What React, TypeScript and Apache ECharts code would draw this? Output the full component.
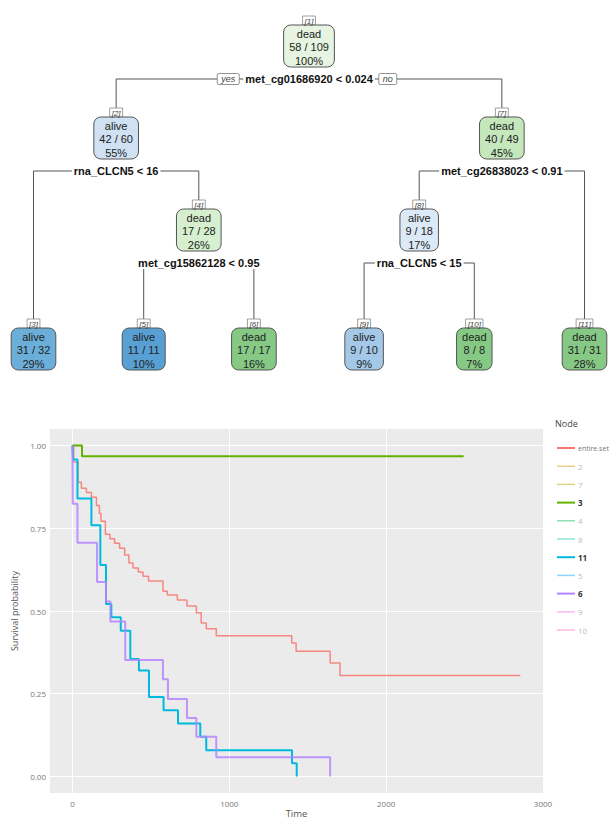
import React, { useEffect, useRef } from 'react';
import * as echarts from 'echarts';

// ---------------- decision tree data ----------------
const nodeIds = [1, 2, 3, 4, 5, 6, 7, 8, 9, 10, 11];
const nodeClass = ['dead', 'alive', 'alive', 'dead', 'alive', 'dead', 'dead', 'alive', 'alive', 'dead', 'dead'];
const nodeCounts = ['58 / 109', '42 / 60', '31 / 32', '17 / 28', '11 / 11', '17 / 17', '40 / 49', '9 / 18', '9 / 10', '8 / 8', '31 / 31'];
const nodePercent = ['100%', '55%', '29%', '26%', '10%', '16%', '45%', '17%', '9%', '7%', '28%'];
const nodeLeftChild = [2, 3, 0, 5, 0, 0, 8, 9, 0, 0, 0];
const nodeRightChild = [7, 4, 0, 6, 0, 0, 11, 10, 0, 0, 0];
const nodeSplit = [
  'met_cg01686920 < 0.024',
  'rna_CLCN5 < 16',
  '',
  'met_cg15862128 < 0.95',
  '',
  '',
  'met_cg26838023 < 0.91',
  'rna_CLCN5 < 15',
  '',
  '',
  '',
];
// node box fills (style)
const nodeFill = ['#e6f4e1', '#cfe1f2', '#6baed9', '#d6efcf', '#58a0d4', '#86c985', '#c4e7bc', '#dce9f6', '#a4c9e8', '#86c985', '#86c985'];

// ---------------- survival data ----------------
const xTicks = [0, 1000, 2000, 3000];
const yTicks = [0, 0.25, 0.5, 0.75, 1];

const entireTime = [0, 8, 36, 57, 89, 121, 153, 172, 182, 210, 239, 269, 301, 333, 360, 386, 420, 450, 485, 577, 605, 669, 730, 790, 821, 853, 917, 1398, 1426, 1643, 1706, 2855];
const entireSurv = [1, 0.95, 0.889, 0.871, 0.858, 0.844, 0.819, 0.795, 0.771, 0.732, 0.718, 0.705, 0.69, 0.669, 0.645, 0.63, 0.618, 0.605, 0.591, 0.56, 0.548, 0.533, 0.515, 0.495, 0.464, 0.446, 0.425, 0.403, 0.378, 0.343, 0.305, 0.305];

const node3Time = [0, 61, 2494];
const node3Surv = [1, 0.968, 0.968];

const node11Time = [0, 4, 32, 121, 178, 214, 248, 308, 369, 424, 488, 581, 673, 815, 853, 1400, 1430];
const node11Surv = [1, 0.958, 0.84, 0.759, 0.639, 0.521, 0.481, 0.44, 0.355, 0.32, 0.24, 0.2, 0.16, 0.12, 0.079, 0.04, 0];

const node6Time = [0, 2, 32, 157, 214, 242, 337, 577, 609, 730, 790, 917, 1643];
const node6Surv = [1, 0.824, 0.706, 0.588, 0.529, 0.468, 0.352, 0.294, 0.234, 0.177, 0.12, 0.058, 0];

const legendNames = ['entire.set', '2', '7', '3', '4', '8', '11', '5', '6', '9', '10'];
const legendColors = ['#F8766D', '#DB8E00', '#AEA200', '#64B200', '#00BD5C', '#00C1A7', '#00BADE', '#00A6FF', '#B385FF', '#EF67EB', '#FF63B6'];
const legendShown = [true, false, false, true, false, false, true, false, true, false, false];

// ---------------- layout constants ----------------
const W = 611;
const H = 819;
const LEAF_X0 = 33.5;
const LEAF_STEP = 110.2;
const LEVEL0_TOP = 16;
const LEVEL_STEP = 92;
const LEAF_LABEL_TOP = 319;
const TAG_H = 9;
const BOX_H = 42;
const TREE_FONT = '"Liberation Sans", Arial, Helvetica, sans-serif';
const PLOT_FONT = '"Open Sans", "Noto Sans", sans-serif';

let ctx: CanvasRenderingContext2D | null = null;
function measure(text: string, font: string): number {
  if (!ctx) ctx = document.createElement('canvas').getContext('2d');
  if (!ctx) return text.length * 6;
  ctx.font = font;
  return ctx.measureText(text).width;
}

function buildTree(): any[] {
  const idx = (id: number) => nodeIds.indexOf(id);
  const depth: Record<number, number> = {};
  const xs: Record<number, number> = {};
  const leaves: number[] = [];
  const walk = (id: number, d: number) => {
    const i = idx(id);
    depth[id] = d;
    if (!nodeLeftChild[i]) {
      leaves.push(id);
      return;
    }
    walk(nodeLeftChild[i], d + 1);
    walk(nodeRightChild[i], d + 1);
  };
  walk(1, 0);
  leaves.forEach((id, k) => (xs[id] = LEAF_X0 + k * LEAF_STEP));
  const setX = (id: number): number => {
    const i = idx(id);
    if (!nodeLeftChild[i]) return xs[id];
    const a = setX(nodeLeftChild[i]);
    const b = setX(nodeRightChild[i]);
    xs[id] = (a + b) / 2;
    return xs[id];
  };
  setX(1);
  const isLeaf = (id: number) => !nodeLeftChild[idx(id)];
  const labelTop = (id: number) => (isLeaf(id) ? LEAF_LABEL_TOP : LEVEL0_TOP + depth[id] * LEVEL_STEP);

  const lines: any[] = [];
  const labels: any[] = [];
  const boxes: any[] = [];
  const fNorm = `11px ${TREE_FONT}`;
  const fBold = `bold 11px ${TREE_FONT}`;
  const fTag = `italic 8px ${TREE_FONT}`;
  const fYes = `italic 9px ${TREE_FONT}`;

  nodeIds.forEach((id, i) => {
    const x = xs[id];
    const lt = labelTop(id);
    const bt = lt + TAG_H;
    const tag = `[${id}]`;
    const tw = measure(tag, fTag) + 4;
    boxes.push({
      type: 'rect',
      z: 3,
      shape: { x: x - tw / 2, y: lt, width: tw, height: TAG_H },
      style: { fill: '#fff', stroke: '#888', lineWidth: 0.8 },
    });
    boxes.push({
      type: 'text',
      z: 4,
      x,
      y: lt + TAG_H / 2 + 0.5,
      style: { text: tag, font: fTag, fill: '#444', align: 'center', verticalAlign: 'middle' },
    });
    const texts = [nodeClass[i], nodeCounts[i], nodePercent[i]];
    const bw = Math.max(...texts.map((t) => measure(t, fNorm))) + 11;
    boxes.push({
      type: 'rect',
      z: 3,
      shape: { x: x - bw / 2, y: bt, width: bw, height: BOX_H, r: 7 },
      style: { fill: nodeFill[i], stroke: '#555', lineWidth: 1 },
    });
    const offs = [8.5, 22, 35.5];
    texts.forEach((t, k) => {
      boxes.push({
        type: 'text',
        z: 4,
        x,
        y: bt + offs[k],
        style: { text: t, font: fNorm, fill: '#222', align: 'center', verticalAlign: 'middle' },
      });
    });
    if (nodeLeftChild[i]) {
      const L = nodeLeftChild[i];
      const R = nodeRightChild[i];
      const sy = bt + 54;
      lines.push({
        type: 'polyline',
        z: 1,
        shape: { points: [[xs[L], labelTop(L)], [xs[L], sy], [xs[R], sy], [xs[R], labelTop(R)]] },
        style: { stroke: '#555', lineWidth: 1, fill: null },
      });
      const lw = measure(nodeSplit[i], fBold);
      labels.push({
        type: 'rect',
        z: 2,
        shape: { x: x - lw / 2 - 2, y: sy - 6, width: lw + 4, height: 12 },
        style: { fill: '#fff' },
      });
      labels.push({
        type: 'text',
        z: 3,
        x,
        y: sy,
        style: { text: nodeSplit[i], font: fBold, fill: '#111', align: 'center', verticalAlign: 'middle' },
      });
      if (id === 1) {
        const yw = measure('yes', fYes) + 8;
        const nw = measure('no', fYes) + 8;
        const yx = x - lw / 2 - 6 - yw;
        const nx = x + lw / 2 + 6;
        [
          ['yes', yx, yw],
          ['no', nx, nw],
        ].forEach(([t, bx, w]: any) => {
          labels.push({
            type: 'rect',
            z: 2,
            shape: { x: bx, y: sy - 5.5, width: w, height: 11, r: 1.5 },
            style: { fill: '#fff', stroke: '#777', lineWidth: 0.8 },
          });
          labels.push({
            type: 'text',
            z: 3,
            x: bx + w / 2,
            y: sy,
            style: { text: t, font: fYes, fill: '#444', align: 'center', verticalAlign: 'middle' },
          });
        });
      }
    }
  });
  return [...lines, ...labels, ...boxes];
}

function buildLegend(): any[] {
  const els: any[] = [];
  els.push({
    type: 'text',
    x: 555,
    y: 423,
    style: { text: 'Node', font: `9px ${PLOT_FONT}`, fill: '#444', align: 'left', verticalAlign: 'middle' },
  });
  legendNames.forEach((name, k) => {
    const y = 448 + k * 18.2;
    const on = legendShown[k];
    els.push({
      type: 'line',
      shape: { x1: 557, y1: y, x2: 575, y2: y },
      style: { stroke: legendColors[k], lineWidth: on ? 2 : 1.5, opacity: on ? 1 : 0.45 },
    });
    els.push({
      type: 'text',
      x: 578,
      y,
      style: {
        text: name,
        font: `${on && k > 0 ? 'bold ' : ''}${k === 0 ? 7 : 8}px ${PLOT_FONT}`,
        fill: on ? (k === 0 ? '#777' : '#333') : '#bbb',
        align: 'left',
        verticalAlign: 'middle',
      },
    });
  });
  return els;
}

const zip = (t: number[], s: number[]) => t.map((v, i) => [v, s[i]]);

export default function App() {
  const ref = useRef<HTMLDivElement>(null);
  useEffect(() => {
    if (!ref.current) return;
    const chart = echarts.init(ref.current, undefined, { renderer: 'svg' });
    const curve = (name: string, t: number[], s: number[], color: string, width: number, opacity = 1) => ({
      name,
      type: 'line',
      step: 'end',
      data: zip(t, s),
      showSymbol: false,
      symbol: 'none',
      silent: true,
      z: 2,
      lineStyle: { color, width, opacity },
    });
    const option: any = {
      animation: false,
      backgroundColor: '#ffffff',
      grid: {
        left: 50,
        right: 68,
        top: 429,
        bottom: 26,
        show: true,
        backgroundColor: '#ebebeb',
        borderWidth: 0,
        containLabel: false,
        outerBoundsMode: 'none',
      },
      xAxis: {
        type: 'value',
        min: -143,
        max: 3000,
        splitLine: { show: false },
        axisLine: { show: false },
        axisTick: { show: true, customValues: xTicks, length: 3, lineStyle: { color: '#888' } },
        axisLabel: {
          customValues: xTicks,
          fontSize: 8,
          color: '#777',
          margin: 6,
          fontFamily: PLOT_FONT,
          formatter: (v: number) => String(v),
        },
        name: 'Time',
        nameLocation: 'middle',
        nameGap: 14,
        nameTextStyle: { fontSize: 9.5, color: '#555', fontFamily: PLOT_FONT, lineHeight: 11 },
      },
      yAxis: {
        type: 'value',
        min: -0.05,
        max: 1.05,
        splitLine: { show: false },
        axisLine: { show: false },
        axisTick: { show: true, customValues: yTicks, length: 3, lineStyle: { color: '#888' } },
        axisLabel: {
          customValues: yTicks,
          fontSize: 8,
          color: '#777',
          margin: 4,
          fontFamily: PLOT_FONT,
          formatter: (v: number) => v.toFixed(2),
        },
        name: 'Survival probability',
        nameLocation: 'middle',
        nameGap: 26,
        nameTextStyle: { fontSize: 9, color: '#555', fontFamily: PLOT_FONT },
      },
      series: [
        {
          name: 'grid',
          type: 'line',
          data: [],
          z: 1,
          silent: true,
          markLine: {
            z: 1,
            silent: true,
            symbol: 'none',
            label: { show: false },
            lineStyle: { color: '#ffffff', width: 1, type: 'solid' },
            emphasis: { disabled: true },
            data: [...xTicks.map((v) => ({ xAxis: v })), ...yTicks.map((v) => ({ yAxis: v }))],
          },
        },
        curve('entire.set', entireTime, entireSurv, legendColors[0], 1.5, 0.85),
        curve('3', node3Time, node3Surv, legendColors[3], 2),
        curve('11', node11Time, node11Surv, legendColors[6], 2),
        curve('6', node6Time, node6Surv, legendColors[8], 2, 0.85),
      ],
      graphic: { elements: [...buildTree(), ...buildLegend()] },
    };
    chart.setOption(option);
    return () => chart.dispose();
  }, []);
  return <div ref={ref} style={{ position: 'absolute', left: 0, top: 0, width: W, height: H }} />;
}
